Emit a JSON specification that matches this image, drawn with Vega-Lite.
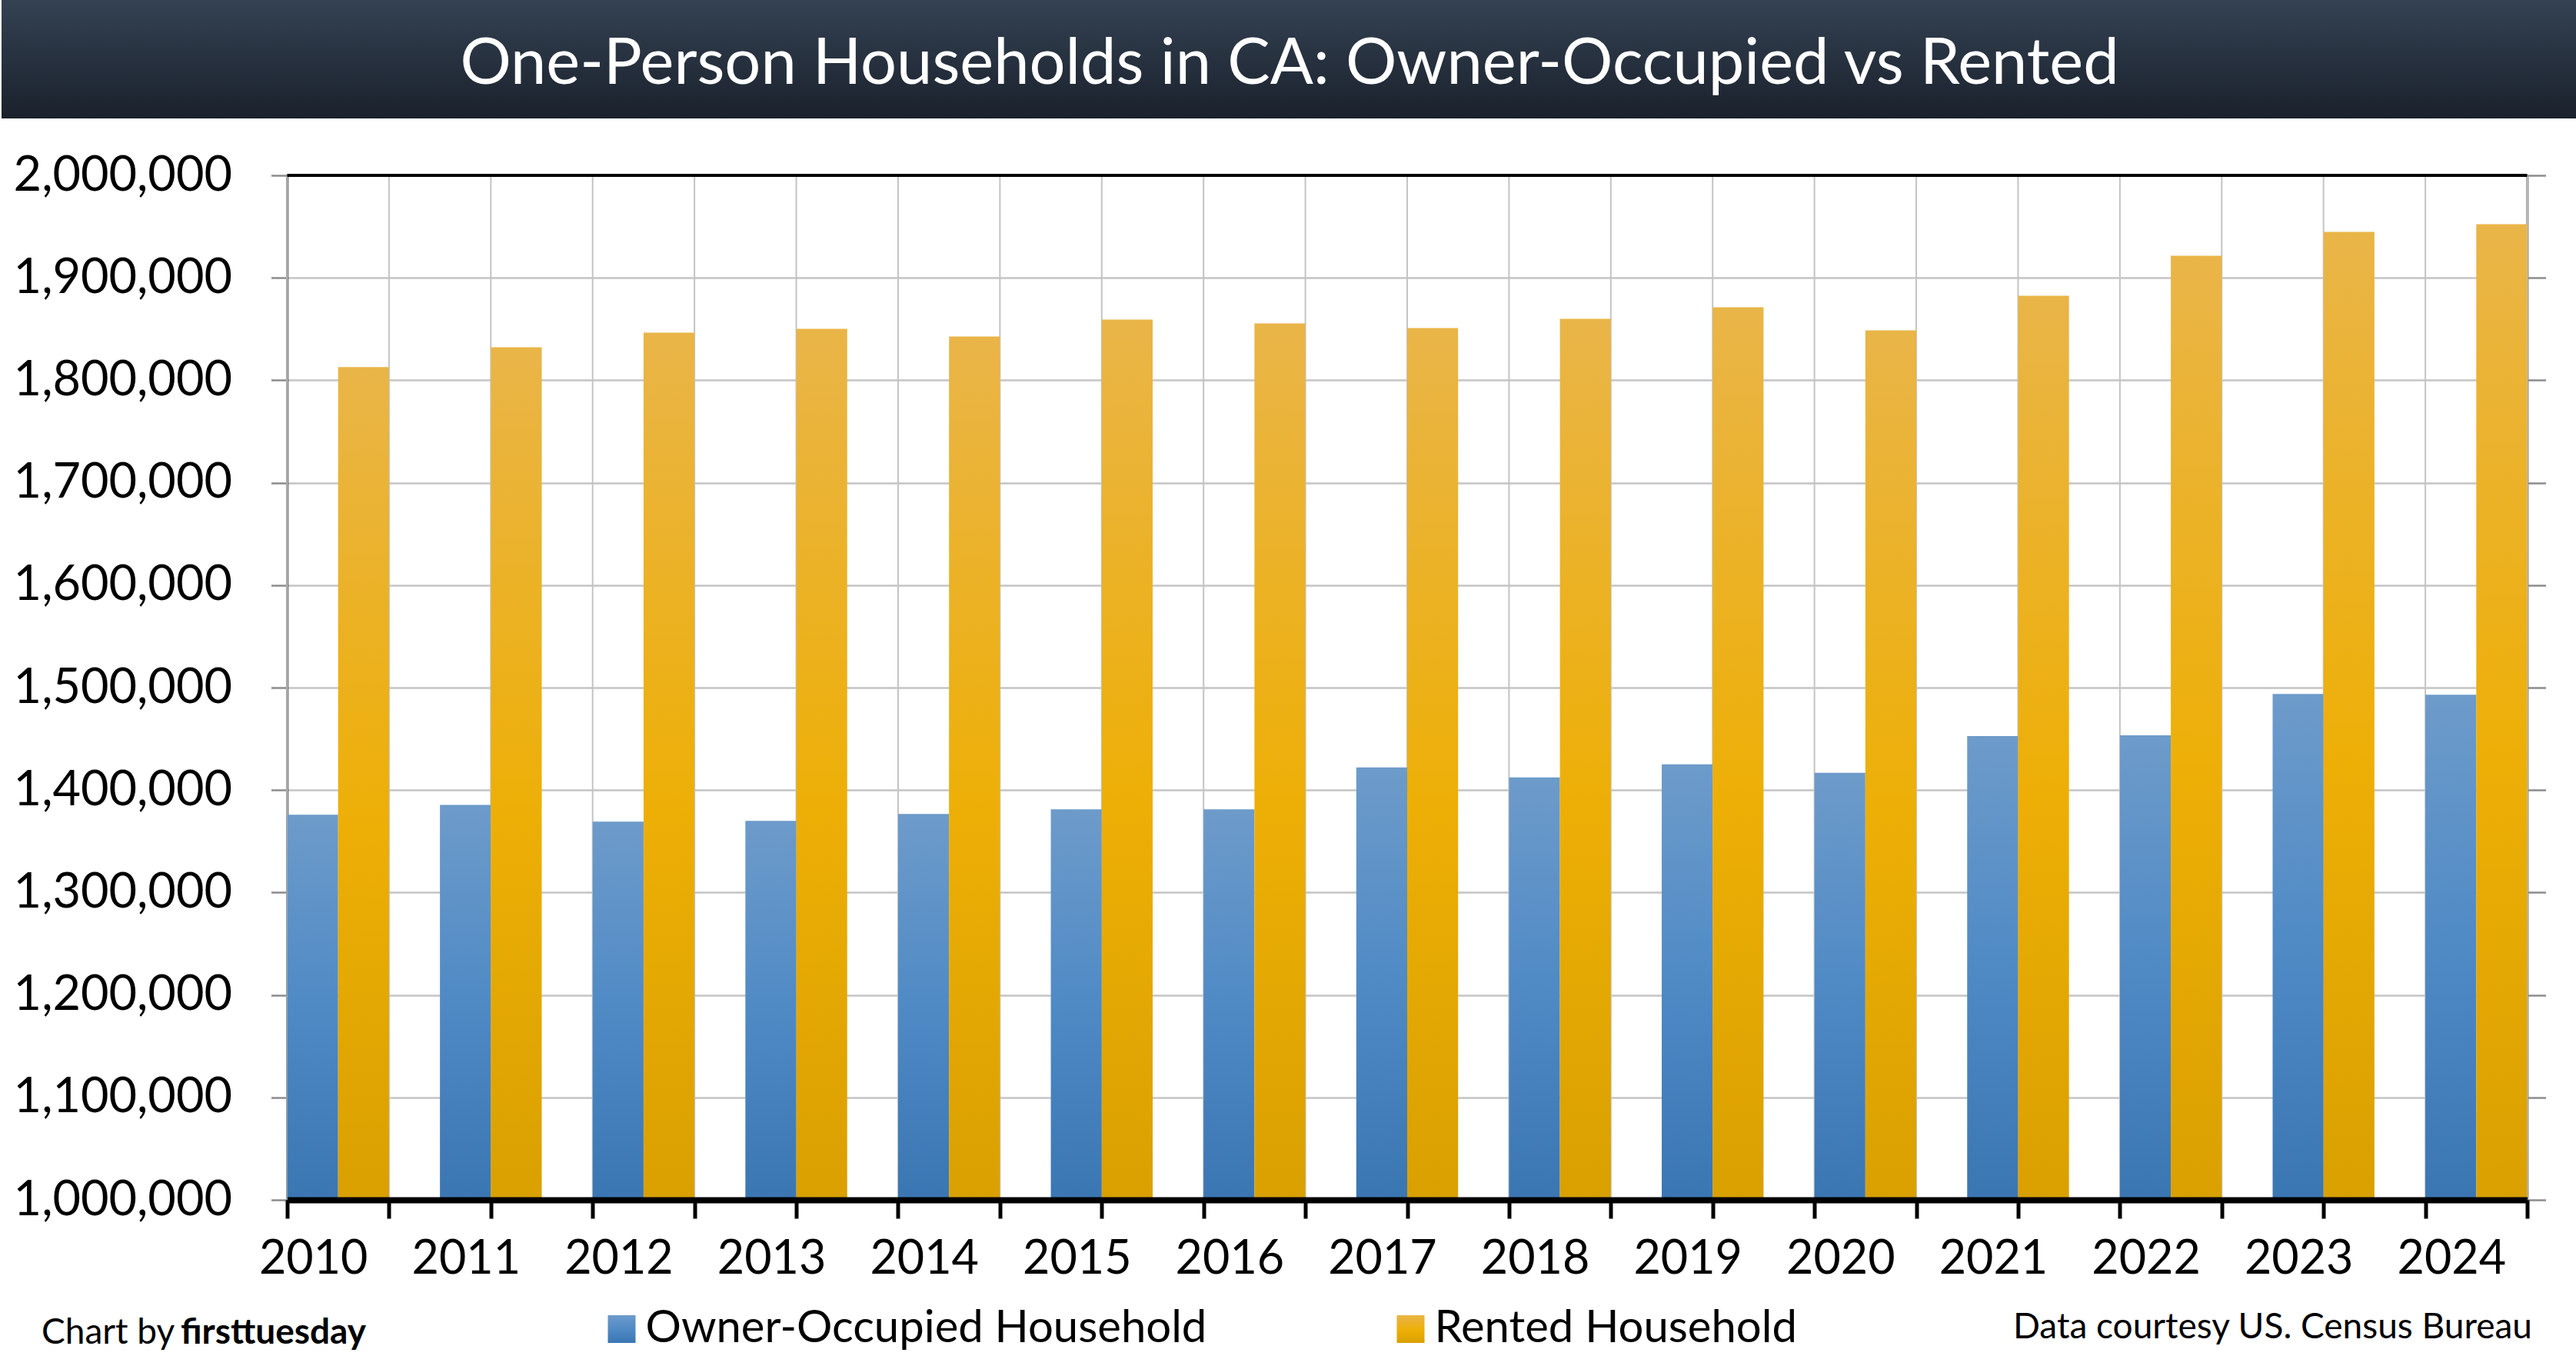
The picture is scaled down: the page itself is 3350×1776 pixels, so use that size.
{
  "$schema": "https://vega.github.io/schema/vega-lite/v6.json",
  "padding": {"left": 0, "top": 0, "right": -372, "bottom": 0},
  "spacing": 42,
  "center": true,
  "background": "white",
  "resolve": {"scale": {"color": "independent"}, "legend": {"color": "independent"}},
  "config": {
    "font": "Lato",
    "axis": {"labelFont": "Lato", "titleFont": "Lato", "labelColor": "#000000", "titleColor": "#000000"},
    "legend": {"labelFont": "Lato", "labelColor": "#000000"}
  },
  "vconcat": [
    {
      "width": 3722,
      "height": 154,
      "view": {"stroke": null},
      "data": {"values": [{"title": "One-Person Households in CA: Owner-Occupied vs Rented"}]},
      "layer": [
        {
          "mark": {
            "type": "rect",
            "color": {
              "gradient": "linear",
              "x1": 0, "y1": 0, "x2": 0, "y2": 1,
              "stops": [
                {"offset": 0, "color": "#344253"},
                {"offset": 1, "color": "#1a212c"}
              ]
            }
          },
          "encoding": {}
        },
        {
          "mark": {"type": "text", "color": "white", "fontSize": 83, "font": "Lato", "dx": -186, "dy": 7},
          "encoding": {"text": {"field": "title", "type": "nominal"}}
        }
      ]
    },
    {
      "width": 2913,
      "height": 1332,
      "view": {"stroke": "#000000", "strokeWidth": 2},
      "resolve": {
        "scale": {"x": "independent", "y": "independent"},
        "axis": {"x": "independent", "y": "independent"}
      },
      "layer": [
        {
          "data": {"values": [
            {"g": 0}, {"g": 1}, {"g": 2}, {"g": 3}, {"g": 4}, {"g": 5}, {"g": 6}, {"g": 7},
            {"g": 8}, {"g": 9}, {"g": 10}, {"g": 11}, {"g": 12}, {"g": 13}, {"g": 14}, {"g": 15},
            {"g": 16}, {"g": 17}, {"g": 18}, {"g": 19}, {"g": 20}, {"g": 21}, {"g": 22}
          ]},
          "mark": {"type": "rule", "color": "#c4c4c4", "strokeWidth": 2},
          "encoding": {
            "x": {
              "field": "g",
              "type": "quantitative",
              "scale": {"domain": [0, 22], "nice": false, "zero": false},
              "axis": {
                "orient": "bottom",
                "values": [0, 1, 2, 3, 4, 5, 6, 7, 8, 9, 10, 11, 12, 13, 14, 15, 16, 17, 18, 19, 20, 21, 22],
                "labels": false,
                "grid": false,
                "ticks": true,
                "tickColor": "#000000",
                "tickWidth": 5,
                "tickSize": 24,
                "domain": true,
                "domainColor": "#000000",
                "domainWidth": 8,
                "zindex": 1,
                "title": "firsttuesday",
                "titleFontWeight": "bold",
                "titleFontSize": 46,
                "titleX": -139,
                "titleY": 186,
                "titleAlign": "left",
                "titleBaseline": "alphabetic"
              }
            }
          }
        },
        {
          "data": {"values": [
            {"year": "2010", "series": "Owner-Occupied Household", "value": 1375900},
            {"year": "2010", "series": "Rented Household", "value": 1812800},
            {"year": "2011", "series": "Owner-Occupied Household", "value": 1385600},
            {"year": "2011", "series": "Rented Household", "value": 1832300},
            {"year": "2012", "series": "Owner-Occupied Household", "value": 1369100},
            {"year": "2012", "series": "Rented Household", "value": 1846500},
            {"year": "2013", "series": "Owner-Occupied Household", "value": 1369900},
            {"year": "2013", "series": "Rented Household", "value": 1850300},
            {"year": "2014", "series": "Owner-Occupied Household", "value": 1376600},
            {"year": "2014", "series": "Rented Household", "value": 1842800},
            {"year": "2015", "series": "Owner-Occupied Household", "value": 1381100},
            {"year": "2015", "series": "Rented Household", "value": 1859300},
            {"year": "2016", "series": "Owner-Occupied Household", "value": 1381100},
            {"year": "2016", "series": "Rented Household", "value": 1855500},
            {"year": "2017", "series": "Owner-Occupied Household", "value": 1422100},
            {"year": "2017", "series": "Rented Household", "value": 1851000},
            {"year": "2018", "series": "Owner-Occupied Household", "value": 1412400},
            {"year": "2018", "series": "Rented Household", "value": 1860000},
            {"year": "2019", "series": "Owner-Occupied Household", "value": 1425100},
            {"year": "2019", "series": "Rented Household", "value": 1871300},
            {"year": "2020", "series": "Owner-Occupied Household", "value": 1416900},
            {"year": "2020", "series": "Rented Household", "value": 1848800},
            {"year": "2021", "series": "Owner-Occupied Household", "value": 1452700},
            {"year": "2021", "series": "Rented Household", "value": 1882500},
            {"year": "2022", "series": "Owner-Occupied Household", "value": 1453500},
            {"year": "2022", "series": "Rented Household", "value": 1921500},
            {"year": "2023", "series": "Owner-Occupied Household", "value": 1493800},
            {"year": "2023", "series": "Rented Household", "value": 1944800},
            {"year": "2024", "series": "Owner-Occupied Household", "value": 1493000},
            {"year": "2024", "series": "Rented Household", "value": 1952300}
          ]},
          "mark": {"type": "bar"},
          "encoding": {
            "x": {
              "field": "year",
              "type": "ordinal",
              "scale": {"paddingInner": 0.33333, "paddingOuter": 0},
              "axis": {
                "orient": "bottom",
                "ticks": false,
                "tickSize": 0,
                "domain": false,
                "grid": false,
                "labelAngle": 0,
                "labelFontSize": 61,
                "labelPadding": 77,
                "labelBaseline": "middle",
                "labelOffset": -32,
                "title": "Chart by",
                "titleFontWeight": "normal",
                "titleFontSize": 46,
                "titleX": -320,
                "titleY": 186,
                "titleAlign": "left",
                "titleBaseline": "alphabetic"
              }
            },
            "xOffset": {
              "field": "series",
              "type": "nominal",
              "sort": ["Owner-Occupied Household", "Rented Household"],
              "scale": {"paddingInner": 0, "paddingOuter": 0}
            },
            "y": {
              "field": "value",
              "type": "quantitative",
              "scale": {"domain": [1000000, 2000000], "nice": false, "zero": false},
              "axis": {
                "orient": "left",
                "values": [1000000, 1100000, 1200000, 1300000, 1400000, 1500000, 1600000, 1700000, 1800000, 1900000, 2000000],
                "format": ",.0f",
                "formatType": "number",
                "labelLimit": 1000,
                "labelFontSize": 63,
                "labelPadding": 51,
                "tickSize": 21,
                "tickColor": "#8c8c8c",
                "tickWidth": 2.5,
                "domainColor": "#3a3a3a",
                "domainWidth": 2.5,
                "gridColor": "#c4c4c4",
                "gridWidth": 2.5,
                "title": null,
                "minExtent": 372,
                "maxExtent": 372
              }
            },
            "y2": {"datum": 1000000},
            "color": {
              "field": "series",
              "type": "nominal",
              "sort": ["Owner-Occupied Household", "Rented Household"],
              "scale": {
                "domain": ["Owner-Occupied Household", "Rented Household"],
                "range": [
                  {"expr": "{gradient: 'linear', x1: 0, y1: 0, x2: 0, y2: 1, stops: [{offset: 0, color: '#6d9bca'}, {offset: 0.5, color: '#4f8ac5'}, {offset: 1, color: '#3a76b2'}]}"},
                  {"expr": "{gradient: 'linear', x1: 0, y1: 0, x2: 0, y2: 1, stops: [{offset: 0, color: '#e9b548'}, {offset: 0.55, color: '#edaf06'}, {offset: 1, color: '#d9a000'}]}"}
                ]
              },
              "legend": {
                "orient": "none",
                "legendX": 406,
                "legendY": 1471,
                "direction": "horizontal",
                "columns": 2,
                "title": null,
                "symbolType": "square",
                "symbolSize": 1296,
                "symbolStrokeWidth": 0,
                "labelFontSize": 58,
                "labelLimit": 2000,
                "labelOffset": 2,
                "columnPadding": 236,
                "padding": 0
              }
            }
          }
        },
        {
          "data": {"values": [{}]},
          "mark": {"type": "rule", "color": "#000000", "strokeWidth": 4},
          "encoding": {
            "y": {
              "datum": 2000000,
              "type": "quantitative",
              "scale": {"domain": [1000000, 2000000], "nice": false, "zero": false},
              "axis": {
                "orient": "right",
                "values": [1000000, 1100000, 1200000, 1300000, 1400000, 1500000, 1600000, 1700000, 1800000, 1900000, 2000000],
                "labels": false,
                "grid": false,
                "tickSize": 24,
                "tickColor": "#8c8c8c",
                "tickWidth": 2.5,
                "domainColor": "#8c8c8c",
                "domainWidth": 3,
                "minExtent": 65,
                "maxExtent": 65,
                "title": "Data courtesy US. Census Bureau",
                "titleAngle": 0,
                "titleX": 6,
                "titleY": 1511,
                "titleAlign": "right",
                "titleBaseline": "alphabetic",
                "titleFontSize": 46,
                "titleFontWeight": "normal"
              }
            }
          }
        }
      ]
    }
  ]
}
